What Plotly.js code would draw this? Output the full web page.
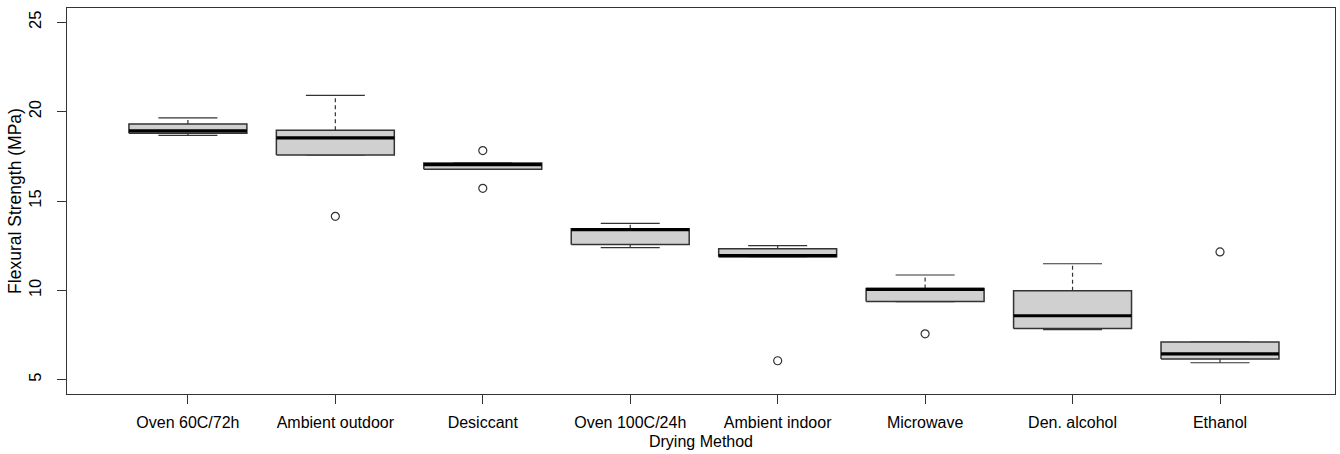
<!DOCTYPE html>
<html>
<head>
<meta charset="utf-8">
<script src="https://cdn.plot.ly/plotly-3.0.1.min.js"></script>
<style>html,body{margin:0;padding:0;background:#fff;}#chart{width:1340px;height:454px;}</style>
</head>
<body>
<div id="chart"></div>
<script>
// ---- Data ----
const categories = ["Oven 60C/72h", "Ambient outdoor", "Desiccant", "Oven 100C/24h", "Ambient indoor", "Microwave", "Den. alcohol", "Ethanol"];
const lowerWhisker = [18.67, 17.58, 16.77, 12.39, 11.88, 9.37, 7.80, 5.95];
const q1           = [18.79, 17.58, 16.77, 12.56, 11.88, 9.37, 7.87, 6.16];
const median       = [18.92, 18.53, 17.03, 13.40, 11.94, 10.06, 8.58, 6.44];
const q3           = [19.31, 18.96, 17.13, 13.45, 12.33, 10.10, 9.98, 7.11];
const upperWhisker = [19.65, 20.91, 17.13, 13.75, 12.50, 10.86, 11.49, 7.11];
const outlierGroup = [2, 3, 3, 5, 6, 8];
const outlierValue = [14.14, 17.82, 15.71, 6.06, 7.57, 12.15];
const yTicks = [5, 10, 15, 20, 25];

// ---- Build geometry in data units ----
const boxHalf = 0.4, stapleHalf = 0.2;
const bx = [], by = [], wx = [], wy = [], sx = [], sy = [], mx = [], my = [];
categories.forEach((c, i) => {
  const p = i + 1;
  bx.push(p - boxHalf, p + boxHalf, p + boxHalf, p - boxHalf, p - boxHalf, null);
  by.push(q1[i], q1[i], q3[i], q3[i], q1[i], null);
  wx.push(p, p, null, p, p, null);
  wy.push(q3[i], upperWhisker[i], null, q1[i], lowerWhisker[i], null);
  sx.push(p - stapleHalf, p + stapleHalf, null, p - stapleHalf, p + stapleHalf, null);
  sy.push(upperWhisker[i], upperWhisker[i], null, lowerWhisker[i], lowerWhisker[i], null);
  mx.push(p - boxHalf, p + boxHalf, null);
  my.push(median[i], median[i], null);
});

const lineCol = '#333333';
const traces = [
  {type: 'scatter', mode: 'lines', x: wx, y: wy, line: {color: lineCol, width: 1.2, dash: '4px,3px'}, hoverinfo: 'skip', showlegend: false},
  {type: 'scatter', mode: 'lines', x: sx, y: sy, line: {color: lineCol, width: 1.2}, hoverinfo: 'skip', showlegend: false},
  {type: 'scatter', mode: 'lines', x: bx, y: by, fill: 'toself', fillcolor: '#d0d0d0', line: {color: lineCol, width: 1.5}, hoverinfo: 'skip', showlegend: false},
  {type: 'scatter', mode: 'lines', x: mx, y: my, line: {color: '#000000', width: 3.2}, hoverinfo: 'skip', showlegend: false},
  {type: 'scatter', mode: 'markers', x: outlierGroup, y: outlierValue, marker: {symbol: 'circle-open', size: 8, color: lineCol, line: {width: 1.2}}, hoverinfo: 'skip', showlegend: false}
];

const family = 'Liberation Sans, Arial, Helvetica, sans-serif';
const layout = {
  width: 1340, height: 454,
  margin: {l: 67, r: 5, t: 8, b: 60},
  paper_bgcolor: '#fff', plot_bgcolor: '#fff',
  font: {family: family, color: '#000'},
  showlegend: false,
  xaxis: {
    range: [0.18, 8.78],
    tickmode: 'array', tickvals: categories.map((c, i) => i + 1), ticktext: categories,
    ticks: 'outside', ticklen: 9, tickwidth: 1, tickcolor: lineCol,
    showline: true, mirror: true, linecolor: lineCol, linewidth: 1.2,
    showgrid: false, zeroline: false,
    tickfont: {size: 16, family: family, color: '#000'},
    ticklabelstandoff: 5,
    title: {text: 'Drying Method', font: {size: 16, family: family, color: '#000'}, standoff: 5}
  },
  yaxis: {
    range: [4.2, 25.8],
    tickmode: 'array', tickvals: yTicks, ticktext: yTicks.map(String),
    tickangle: -90,
    ticks: 'outside', ticklen: 9, tickwidth: 1, tickcolor: lineCol,
    showline: true, mirror: true, linecolor: lineCol, linewidth: 1.2,
    showgrid: false, zeroline: false,
    tickfont: {size: 16.5, family: family, color: '#000'},
    ticklabelstandoff: 9,
    title: {text: 'Flexural Strength (MPa)', font: {size: 17.5, family: family, color: '#000'}, standoff: 0}
  }
};

Plotly.newPlot('chart', traces, layout, {staticPlot: true, displayModeBar: false});
</script>
</body>
</html>
